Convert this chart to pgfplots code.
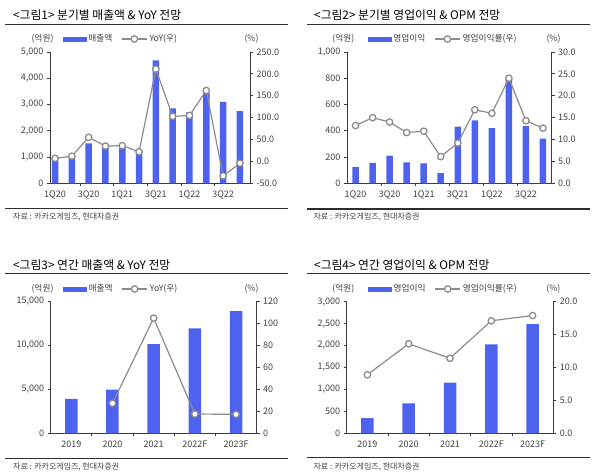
\documentclass[border=0pt]{standalone}
\usepackage{fontspec}
\setmainfont{Noto Sans CJK KR}
\usepackage{pgfplots}
\pgfplotsset{compat=1.18}
\definecolor{barblue}{RGB}{78,98,240}
\definecolor{linegray}{RGB}{140,140,140}
\definecolor{txt}{RGB}{64,64,64}
\definecolor{axisc}{RGB}{60,60,60}
\definecolor{rule}{RGB}{45,45,45}
\newcommand{\tf}{\fontsize{9}{10}\selectfont}
\newcommand{\lf}{\fontsize{8.7}{10}\selectfont}
\newcommand{\srcf}{\fontsize{8}{9}\selectfont}
\newcommand{\ttl}{\fontsize{11.8}{13}\selectfont}
\pgfplotsset{
  base/.style={scale only axis, anchor=south west, clip=false, scaled ticks=false,
    tick label style={font=\tf, text=txt},
    axis line style={axisc, line width=0.9pt},
    every tick/.style={axisc, line width=0.8pt},
    tick align=outside, major tick length=3pt},
  leftax/.style={base, axis x line*=bottom, axis y line*=left, xticklabels={}},
  rightax/.style={base, axis y line*=right, axis x line*=bottom,
    x axis line style={draw=none}, xtick style={draw=none},
    xticklabel style={yshift=-1pt}},
  barst/.style={ybar, bar width=#1, fill=barblue, draw=none},
  linest/.style={linegray, line width=1.2pt, mark=*, mark size=3.2pt,
    mark options={fill=white, draw=linegray, line width=1.3pt},
    legend image code/.code={\draw[##1, mark repeat=2, mark phase=2] plot coordinates {(0pt,0pt) (12.5pt,0pt) (25pt,0pt)};}},
  barleg/.style={legend image code/.code={\fill[barblue] (0pt,-2.2pt) rectangle (22.7pt,2.2pt);}},
  legst/.style={legend style={draw=none, fill=none, at={(axis description cs:#1)}, anchor=west,
    legend columns=-1, font=\lf, text=txt, inner sep=0pt,
    /tikz/every even column/.append style={column sep=7pt}}},
}
\begin{document}
\begin{tikzpicture}
\useasboundingbox (0pt,0pt) rectangle (600pt,-475pt);
% ---------- Panel 1 ----------
\node[anchor=west, font=\ttl, text=black, inner sep=0pt] at (13pt,-15pt) {<그림1> 분기별 매출액 \& YoY 전망};
\draw[rule, line width=1.6pt] (5pt,-24.3pt) -- (288pt,-24.3pt);
\draw[rule, line width=1.6pt] (5pt,-208.3pt) -- (288pt,-208.3pt);
\node[anchor=west, font=\srcf, text=txt, inner sep=0pt] at (13pt,-216.7pt) {자료 : 카카오게임즈, 현대차증권};
\node[font=\lf, text=txt, inner sep=0pt] at (42.5pt,-39pt) {(억원)};
\node[font=\lf, text=txt, inner sep=0pt] at (251.5pt,-39pt) {(\%)};
\begin{axis}[leftax, at={(50pt,-183.3pt)}, width=200pt, height=131.3pt,
  xmin=-0.3, xmax=11.6, ymin=0, ymax=5000,
  xtick={1.5,3.5,5.5,7.5,9.5},
  ytick={0,1000,2000,3000,4000,5000},
  yticklabels={0,{1,000},{2,000},{3,000},{4,000},{5,000}}]
\addplot[barst=6.5pt] coordinates {(0,950) (1,1050) (2,1520) (3,1400) (4,1400) (5,1200) (6,4680) (7,2850) (8,2700) (9,3450) (10,3100) (11,2750)};
\end{axis}
\begin{axis}[rightax, at={(50pt,-183.3pt)}, width=200pt, height=131.3pt,
  xmin=-0.3, xmax=11.6, ymin=-50, ymax=250,
  xtick={0,2,4,6,8,10}, xticklabels={1Q20,3Q20,1Q21,3Q21,1Q22,3Q22},
  ytick={-50,0,50,100,150,200,250},
  yticklabels={-50.0,0.0,50.0,100.0,150.0,200.0,250.0},
  legst={0.065,1.099}]
\addlegendimage{barleg}\addlegendentry{매출액}
\addplot[linest] coordinates {(0,7) (1,12) (2,55) (3,35) (4,36) (5,22) (6,211) (7,103) (8,105) (9,162) (10,-33) (11,-4)};
\addlegendentry{YoY(우)}
\end{axis}
% ---------- Panel 2 ----------
\node[anchor=west, font=\ttl, text=black, inner sep=0pt] at (314pt,-15pt) {<그림2> 분기별 영업이익 \& OPM 전망};
\draw[rule, line width=1.6pt] (307pt,-24.3pt) -- (590pt,-24.3pt);
\draw[rule, line width=1.6pt] (307pt,-209pt) -- (590pt,-209pt);
\node[anchor=west, font=\srcf, text=txt, inner sep=0pt] at (313.3pt,-216.7pt) {자료 : 카카오게임즈, 현대차증권};
\node[font=\lf, text=txt, inner sep=0pt] at (343.3pt,-39pt) {(억원)};
\node[font=\lf, text=txt, inner sep=0pt] at (553.5pt,-39pt) {(\%)};
\begin{axis}[leftax, at={(347pt,-183.3pt)}, width=204.5pt, height=131.3pt,
  xmin=-0.5, xmax=11.5, ymin=0, ymax=1000,
  xtick={1.5,3.5,5.5,7.5,9.5},
  ytick={0,200,400,600,800,1000},
  yticklabels={0,200,400,600,800,{1,000}}]
\addplot[barst=6.5pt] coordinates {(0,123) (1,155) (2,210) (3,160) (4,152) (5,78) (6,431) (7,480) (8,420) (9,800) (10,435) (11,340)};
\end{axis}
\begin{axis}[rightax, at={(347pt,-183.3pt)}, width=204.5pt, height=131.3pt,
  xmin=-0.5, xmax=11.5, ymin=0, ymax=30,
  xtick={0,2,4,6,8,10}, xticklabels={1Q20,3Q20,1Q21,3Q21,1Q22,3Q22},
  ytick={0,5,10,15,20,25,30},
  yticklabels={0.0,5.0,10.0,15.0,20.0,25.0,30.0},
  legst={0.103,1.099}]
\addlegendimage{barleg}\addlegendentry{영업이익}
\addplot[linest] coordinates {(0,13.2) (1,15.0) (2,14.0) (3,11.6) (4,11.9) (5,6.1) (6,9.2) (7,16.8) (8,16.0) (9,24.0) (10,14.3) (11,12.6)};
\addlegendentry{영업이익률(우)}
\end{axis}
% ---------- Panel 3 ----------
\node[anchor=west, font=\ttl, text=black, inner sep=0pt] at (13pt,-265pt) {<그림3> 연간 매출액 \& YoY 전망};
\draw[rule, line width=1.6pt] (5pt,-273.3pt) -- (288pt,-273.3pt);
\draw[rule, line width=1.6pt] (5pt,-458.3pt) -- (288pt,-458.3pt);
\node[anchor=west, font=\srcf, text=txt, inner sep=0pt] at (13pt,-466.7pt) {자료 : 카카오게임즈, 현대차증권};
\node[font=\lf, text=txt, inner sep=0pt] at (42.5pt,-289pt) {(억원)};
\node[font=\lf, text=txt, inner sep=0pt] at (251.5pt,-289pt) {(\%)};
\begin{axis}[leftax, at={(50.7pt,-433.3pt)}, width=206pt, height=132.3pt,
  xmin=-0.5, xmax=4.5, ymin=0, ymax=15000,
  xtick={0.5,1.5,2.5,3.5},
  ytick={0,5000,10000,15000},
  yticklabels={0,{5,000},{10,000},{15,000}}]
\addplot[barst=12.5pt] coordinates {(0,3900) (1,4960) (2,10120) (3,11900) (4,13860)};
\end{axis}
\begin{axis}[rightax, at={(50.7pt,-433.3pt)}, width=206pt, height=132.3pt,
  xmin=-0.5, xmax=4.5, ymin=0, ymax=120,
  xtick={0,1,2,3,4}, xticklabels={2019,2020,2021,2022F,2023F},
  ytick={0,20,40,60,80,100,120},
  yticklabels={0,20,40,60,80,100,120},
  legst={0.061,1.091}]
\addlegendimage{barleg}\addlegendentry{매출액}
\addplot[linest] coordinates {(1,27.2) (2,104.5) (3,17.5) (4,17.2)};
\addlegendentry{YoY(우)}
\end{axis}
% ---------- Panel 4 ----------
\node[anchor=west, font=\ttl, text=black, inner sep=0pt] at (314pt,-265pt) {<그림4> 연간 영업이익 \& OPM 전망};
\draw[rule, line width=1.6pt] (307pt,-273.3pt) -- (590pt,-273.3pt);
\draw[rule, line width=1.6pt] (307pt,-457.3pt) -- (590pt,-457.3pt);
\node[anchor=west, font=\srcf, text=txt, inner sep=0pt] at (313.3pt,-466.7pt) {자료 : 카카오게임즈, 현대차증권};
\node[font=\lf, text=txt, inner sep=0pt] at (343.3pt,-289pt) {(억원)};
\node[font=\lf, text=txt, inner sep=0pt] at (553.3pt,-289pt) {(\%)};
\begin{axis}[leftax, at={(346.7pt,-433.3pt)}, width=206.6pt, height=131.6pt,
  xmin=-0.5, xmax=4.5, ymin=0, ymax=3000,
  xtick={0.5,1.5,2.5,3.5},
  ytick={0,500,1000,1500,2000,2500,3000},
  yticklabels={0,500,{1,000},{1,500},{2,000},{2,500},{3,000}}]
\addplot[barst=12.5pt] coordinates {(0,345) (1,685) (2,1155) (3,2030) (4,2490)};
\end{axis}
\begin{axis}[rightax, at={(346.7pt,-433.3pt)}, width=206.6pt, height=131.6pt,
  xmin=-0.5, xmax=4.5, ymin=0, ymax=20,
  xtick={0,1,2,3,4}, xticklabels={2019,2020,2021,2022F,2023F},
  ytick={0,5,10,15,20},
  yticklabels={0.0,5.0,10.0,15.0,20.0},
  legst={0.1045,1.0965}]
\addlegendimage{barleg}\addlegendentry{영업이익}
\addplot[linest] coordinates {(0,8.9) (1,13.6) (2,11.4) (3,17.1) (4,17.9)};
\addlegendentry{영업이익률(우)}
\end{axis}
\end{tikzpicture}
\end{document}
